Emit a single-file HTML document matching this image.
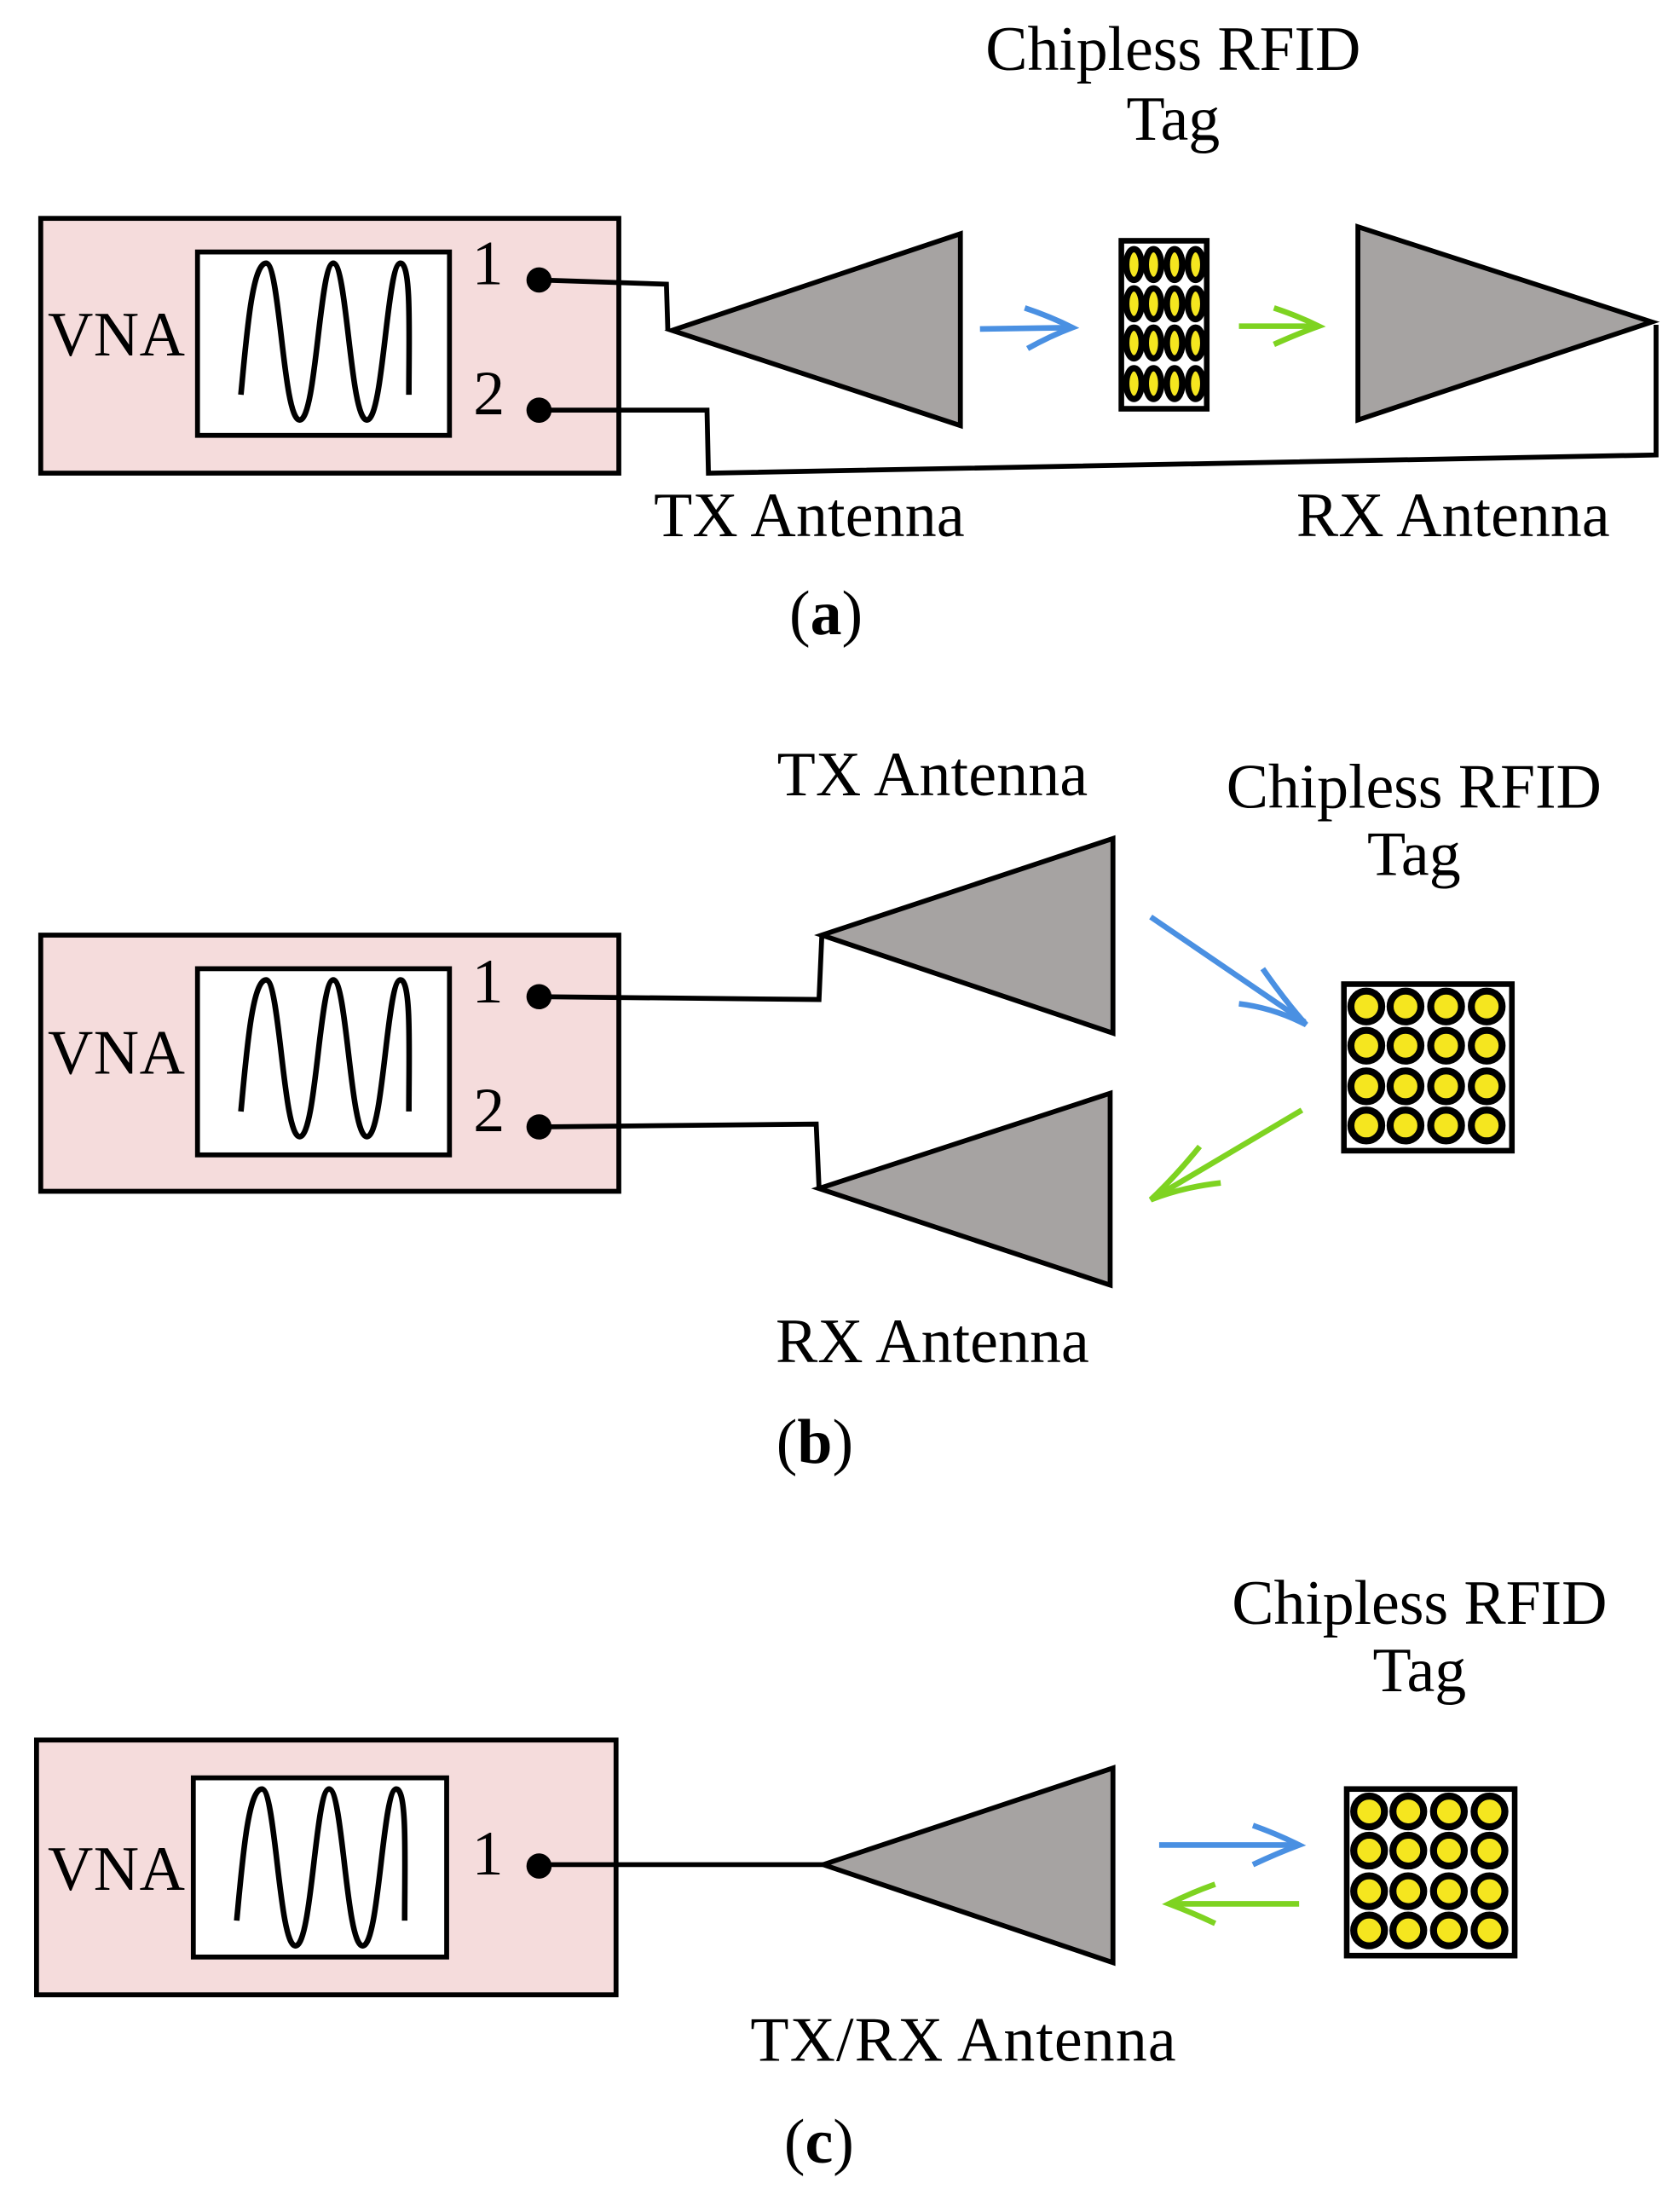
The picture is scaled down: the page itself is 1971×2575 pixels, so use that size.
<!DOCTYPE html>
<html><head><style>html,body{margin:0;padding:0;background:#fff}svg{display:block}</style></head>
<body>
<svg width="1971" height="2575" viewBox="0 0 1200 1568" xmlns="http://www.w3.org/2000/svg" font-family="'Liberation Serif', serif" font-size="45">
<defs>
<g id="wave"><path d="M172,282 C176,240 180,188 190,188 C200,188 202,300 214,300 C226,300 228,188 238,188 C248,188 250,300 262,300 C274,300 276,188 286,188 C294,188 292,240 292,282" fill="none" stroke="#000" stroke-width="4"/></g>
<g id="dots">
<g fill="#f5e61f" stroke="#000" stroke-width="5">
<circle cx="16" cy="16" r="11"/><circle cx="44" cy="16" r="11"/><circle cx="73" cy="16" r="11"/><circle cx="102" cy="16" r="11"/>
<circle cx="16" cy="44" r="11"/><circle cx="44" cy="44" r="11"/><circle cx="73" cy="44" r="11"/><circle cx="102" cy="44" r="11"/>
<circle cx="16" cy="73" r="11"/><circle cx="44" cy="73" r="11"/><circle cx="73" cy="73" r="11"/><circle cx="102" cy="73" r="11"/>
<circle cx="16" cy="101" r="11"/><circle cx="44" cy="101" r="11"/><circle cx="73" cy="101" r="11"/><circle cx="102" cy="101" r="11"/>
</g>
<rect x="0" y="0" width="120" height="119" fill="none" stroke="#000" stroke-width="4"/>
</g>
</defs>

<!-- (a) -->
<rect x="29" y="156" width="413" height="182" fill="#f5dcdc" stroke="#000" stroke-width="3.5"/>
<rect x="141" y="180" width="180" height="131" fill="#fff" stroke="#000" stroke-width="3.5"/>
<use href="#wave"/>
<text x="34" y="254" textLength="98">VNA</text>
<text x="337" y="203">1</text>
<text x="338" y="296">2</text>
<circle cx="385" cy="200" r="9"/><circle cx="385" cy="293" r="9"/>
<polyline points="385,200 476,203 477,236" fill="none" stroke="#000" stroke-width="3.5"/>
<polygon points="480,236 686,167 686,304" fill="#a6a3a2" stroke="#000" stroke-width="3.5"/>
<polyline points="385,293 505,293 506,338 1183,325 1183,232" fill="none" stroke="#000" stroke-width="3.5"/>
<polygon points="1180,230 970,162 970,300" fill="#a6a3a2" stroke="#000" stroke-width="3.5"/>
<rect x="801" y="172" width="61" height="120" fill="#fff" stroke="#000" stroke-width="4"/>
<g fill="#f5e61f" stroke="#000" stroke-width="4.5">
<ellipse cx="810" cy="189" rx="5.5" ry="11"/><ellipse cx="824" cy="189" rx="5.5" ry="11"/><ellipse cx="839" cy="189" rx="5.5" ry="11"/><ellipse cx="854" cy="189" rx="5.5" ry="11"/>
<ellipse cx="810" cy="217" rx="5.5" ry="11"/><ellipse cx="824" cy="217" rx="5.5" ry="11"/><ellipse cx="839" cy="217" rx="5.5" ry="11"/><ellipse cx="854" cy="217" rx="5.5" ry="11"/>
<ellipse cx="810" cy="245" rx="5.5" ry="11"/><ellipse cx="824" cy="245" rx="5.5" ry="11"/><ellipse cx="839" cy="245" rx="5.5" ry="11"/><ellipse cx="854" cy="245" rx="5.5" ry="11"/>
<ellipse cx="810" cy="274" rx="5.5" ry="11"/><ellipse cx="824" cy="274" rx="5.5" ry="11"/><ellipse cx="839" cy="274" rx="5.5" ry="11"/><ellipse cx="854" cy="274" rx="5.5" ry="11"/>
</g>
<g fill="none" stroke="#4a90e2" stroke-width="4"><line x1="700" y1="235" x2="766" y2="234"/><path d="M732,220 Q750,226 766,234 Q750,240 734,249"/></g>
<g fill="none" stroke="#7ed321" stroke-width="4"><line x1="885" y1="233" x2="942" y2="233"/><path d="M910,220 Q928,226 942,233 Q928,238 910,246"/></g>
<text x="838" y="50" text-anchor="middle" textLength="268">Chipless RFID</text>
<text x="838" y="100" text-anchor="middle">Tag</text>
<text x="578" y="383" text-anchor="middle" textLength="222">TX Antenna</text>
<text x="1038" y="383" text-anchor="middle" textLength="224">RX Antenna</text>
<text x="590" y="453" text-anchor="middle">(<tspan font-weight="bold">a</tspan>)</text>

<!-- (b) -->
<rect x="29" y="668" width="413" height="183" fill="#f5dcdc" stroke="#000" stroke-width="3.5"/>
<rect x="141" y="692" width="180" height="133" fill="#fff" stroke="#000" stroke-width="3.5"/>
<use href="#wave" transform="translate(0,512)"/>
<text x="34" y="767" textLength="98">VNA</text>
<text x="337" y="716">1</text>
<text x="338" y="808">2</text>
<circle cx="385" cy="712" r="9"/><circle cx="385" cy="805" r="9"/>
<polyline points="385,712 585,714 587,669" fill="none" stroke="#000" stroke-width="3.5"/>
<polygon points="587,668 795,599 795,738" fill="#a6a3a2" stroke="#000" stroke-width="3.5"/>
<polyline points="385,805 583,803 585,848" fill="none" stroke="#000" stroke-width="3.5"/>
<polygon points="585,849 793,781 793,918" fill="#a6a3a2" stroke="#000" stroke-width="3.5"/>
<use href="#dots" transform="translate(960,703)"/>
<g fill="none" stroke="#4a90e2" stroke-width="4"><line x1="822" y1="655" x2="932" y2="730"/><path d="M902,692 Q918,715 933,732 Q910,720 885,717"/></g>
<g fill="none" stroke="#7ed321" stroke-width="4"><line x1="930" y1="793" x2="822" y2="857"/><path d="M857,819 Q840,840 822,857 Q845,848 872,845"/></g>
<text x="666" y="568" text-anchor="middle" textLength="222">TX Antenna</text>
<text x="1010" y="577" text-anchor="middle" textLength="268">Chipless RFID</text>
<text x="1010" y="625" text-anchor="middle">Tag</text>
<text x="666" y="973" text-anchor="middle" textLength="224">RX Antenna</text>
<text x="582" y="1045" text-anchor="middle">(<tspan font-weight="bold">b</tspan>)</text>

<!-- (c) -->
<rect x="26" y="1243" width="414" height="182" fill="#f5dcdc" stroke="#000" stroke-width="3.5"/>
<rect x="138" y="1270" width="181" height="128" fill="#fff" stroke="#000" stroke-width="3.5"/>
<use href="#wave" transform="translate(-3,1090)"/>
<text x="34" y="1350" textLength="98">VNA</text>
<text x="337" y="1339">1</text>
<circle cx="385" cy="1333" r="9"/>
<line x1="385" y1="1332" x2="588" y2="1332" stroke="#000" stroke-width="3.5"/>
<polygon points="588,1332 795,1263 795,1402" fill="#a6a3a2" stroke="#000" stroke-width="3.5"/>
<use href="#dots" transform="translate(962,1278)"/>
<g fill="none" stroke="#4a90e2" stroke-width="4"><line x1="828" y1="1318" x2="928" y2="1318"/><path d="M895,1304 Q912,1310 928,1318 Q912,1324 895,1332"/></g>
<g fill="none" stroke="#7ed321" stroke-width="4"><line x1="928" y1="1360" x2="835" y2="1360"/><path d="M868,1346 Q851,1352 835,1360 Q851,1366 868,1374"/></g>
<text x="1014" y="1160" text-anchor="middle" textLength="268">Chipless RFID</text>
<text x="1014" y="1208" text-anchor="middle">Tag</text>
<text x="688" y="1472" text-anchor="middle" textLength="304">TX/RX Antenna</text>
<text x="585" y="1545" text-anchor="middle">(<tspan font-weight="bold">c</tspan>)</text>
</svg>
</body></html>
